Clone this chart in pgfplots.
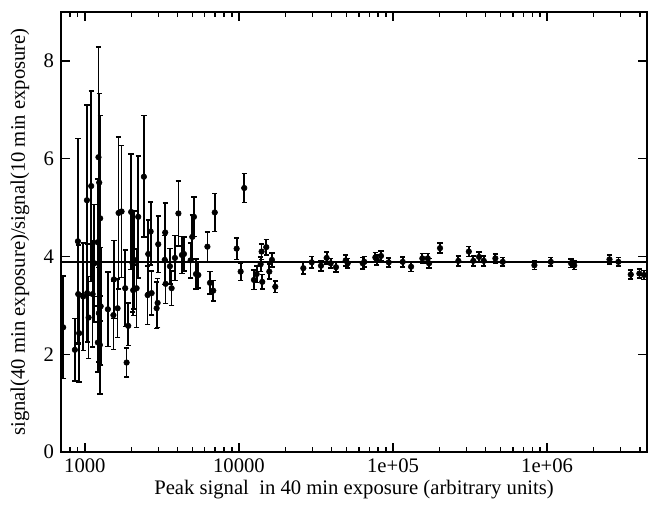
\documentclass[border=0pt]{standalone}
\usepackage{fontspec}
\setmainfont{Liberation Serif}
\usepackage{pgfplots}
\usepackage{pgfplotstable}
\pgfplotsset{compat=1.18}
\pgfplotstableread{
x y ep em
723 2.55 1.05 1.05
861 2.09 0.64 0.64
901 4.31 2.10 2.10
905 3.23 1.00 1.00
918 2.43 0.80 1.00
975 3.18 1.10 1.10
1031 5.15 1.95 1.95
1035 3.25 1.00 1.00
1057 2.75 0.84 0.84
1099 5.44 1.95 1.95
1122 3.23 1.08 1.08
1152 3.86 1.20 1.20
1209 4.29 1.30 1.30
1214 2.24 0.94 0.60
1225 6.03 2.26 2.26
1232 2.84 1.00 1.00
1239 5.51 1.82 1.82
1251 2.19 1.00 1.00
1257 4.78 2.10 2.10
1266 2.98 1.20 1.20
1410 2.92 0.76 0.76
1532 2.80 0.70 0.70
1543 3.53 0.80 0.80
1630 2.94 0.60 0.60
1655 4.89 1.55 1.55
1730 4.92 1.35 1.35
1827 3.35 0.78 0.78
1866 1.83 0.30 0.30
1911 2.58 0.47 0.40
1997 4.91 1.18 1.18
2040 3.86 1.00 1.00
2058 3.31 0.52 0.52
2080 3.93 1.00 1.00
2167 3.35 0.80 0.80
2218 4.81 1.25 1.25
2415 5.63 1.25 1.23
2554 3.21 0.60 0.60
2577 4.05 0.69 0.80
2672 4.51 0.60 0.69
2711 3.25 0.45 0.45
2922 2.94 0.54 0.41
2966 3.05 0.50 0.50
2993 4.25 0.58 0.58
3300 3.93 0.50 0.50
3322 4.49 0.60 1.05
3342 3.44 0.48 0.40
3565 3.80 0.36 0.36
3656 3.35 0.35 0.35
3840 3.97 0.46 0.46
4046 4.88 0.66 0.67
4265 4.03 0.38 0.38
4395 4.05 0.35 0.35
4856 3.92 0.36 0.36
4977 4.40 0.45 0.45
5103 4.81 0.40 0.40
5260 3.64 0.31 0.31
5446 3.62 0.27 0.27
6241 4.20 0.30 0.30
6486 3.46 0.23 0.23
6810 3.30 0.21 0.21
6965 4.90 0.39 0.39
9661 4.16 0.22 0.22
10257 3.69 0.18 0.18
10820 5.40 0.30 0.30
12510 3.52 0.20 0.20
13030 3.64 0.17 0.17
13830 3.84 0.15 0.15
14030 4.10 0.16 0.16
14160 3.48 0.15 0.15
15040 4.19 0.16 0.16
15740 3.69 0.15 0.15
16370 3.93 0.14 0.14
17210 3.38 0.12 0.12
26170 3.76 0.12 0.12
29660 3.88 0.12 0.12
34070 3.81 0.11 0.11
37080 3.97 0.12 0.12
39380 3.86 0.10 0.10
42630 3.78 0.10 0.10
49290 3.92 0.11 0.11
50780 3.86 0.10 0.10
63600 3.86 0.12 0.12
65110 3.89 0.11 0.11
76750 3.98 0.10 0.10
78370 3.93 0.10 0.10
83570 4.01 0.10 0.10
93750 3.88 0.09 0.09
115600 3.89 0.10 0.10
130900 3.79 0.10 0.10
154900 3.96 0.10 0.10
168000 3.96 0.10 0.10
171300 3.86 0.10 0.10
201800 4.17 0.10 0.10
265400 3.91 0.10 0.10
310300 4.10 0.10 0.10
332000 3.91 0.10 0.10
361600 3.99 0.10 0.10
388100 3.91 0.10 0.10
461400 3.96 0.09 0.09
515300 3.89 0.09 0.09
827000 3.82 0.09 0.09
1057000 3.89 0.09 0.09
1430000 3.86 0.09 0.09
1500000 3.82 0.09 0.09
2540000 3.94 0.09 0.09
2900000 3.89 0.09 0.09
3490000 3.63 0.09 0.09
3970000 3.65 0.09 0.09
4260000 3.62 0.09 0.09
}\ratiodata
\begin{document}
\fontsize{15.5}{18}\selectfont
\begin{tikzpicture}
\begin{axis}[
  scale only axis, width=439.5pt, height=330pt,
  xmode=log, xmin=700, xmax=4.45e6, ymin=0, ymax=9,
  xtick={1000,10000,100000,1000000},
  xticklabels={1000,10000,1e+05,1e+06},
  minor xtick={700,800,900,2000,3000,4000,5000,6000,7000,8000,9000,20000,30000,40000,50000,60000,70000,80000,90000,200000,300000,400000,500000,600000,700000,800000,900000,2000000,3000000,4000000},
  ytick={0,2,4,6,8}, yticklabels={0,2,4,6,8},
  minor ytick={},
  tick align=inside, xtick pos=both, ytick pos=both,
  major tick length=7pt, minor tick length=4pt,
  every tick/.style={black, line width=1pt},
  axis line style={line width=1.5pt},
  ticklabel style={font=\fontsize{15.5}{18}\selectfont},
  label style={font=\fontsize{15.5}{18}\selectfont},
  xlabel={Peak signal\ \ in 40 min exposure (arbitrary units)},
  ylabel={signal(40 min exposure)/signal(10 min exposure)},
  xlabel style={at={(axis description cs:0.5,-0.0977)}, anchor=base},
  ylabel style={at={(axis description cs:-0.07,0.5)}, anchor=center},
]
\addplot[black, line width=1.2pt] coordinates {(700,3.89) (4.45e6,3.89)};
\addplot[black, only marks, mark=*, mark size=2.1pt,
  error bars/.cd, y dir=both, y explicit,
  error bar style={line width=1.3pt, black},
  error mark options={mark size=2pt, line width=1.2pt, black, rotate=90}]
  table[x=x, y=y, y error plus=ep, y error minus=em] {\ratiodata};
\coordinate (bl) at (rel axis cs:-0.1041,-0.1273);
\coordinate (tr) at (rel axis cs:1.0051,1.0273);
\end{axis}
\path (bl) rectangle (tr);
\end{tikzpicture}
\end{document}
